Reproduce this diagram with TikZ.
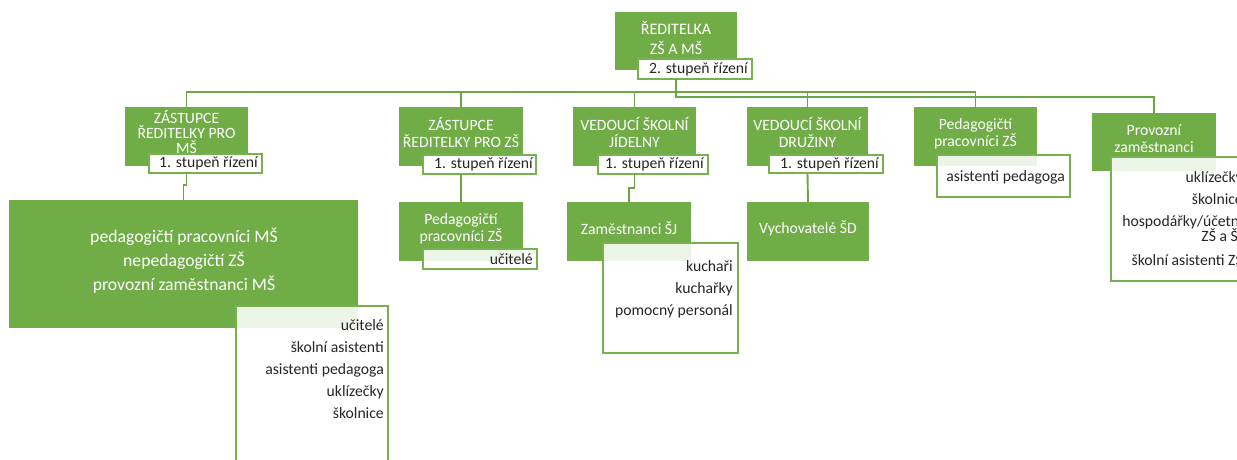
\documentclass[tikz,border=0pt]{standalone}
\usepackage{fontspec}
\setmainfont{Carlito}
\definecolor{G}{HTML}{70AD47}
\definecolor{GB}{HTML}{78B250}
\definecolor{GC}{HTML}{6CA545}
\definecolor{TX}{HTML}{262626}
\begin{document}
\begin{tikzpicture}[x=1pt,y=-1pt,
  gbox/.style={fill=G,draw=none,inner sep=0pt,outer sep=0pt,anchor=north west},
  wbox/.style={draw=GB,line width=1.4pt,fill=white,fill opacity=0.88,inner sep=0pt,outer sep=0pt,anchor=north west},
  lbox/.style={draw=GB,line width=1.4pt,fill=white,inner sep=0pt,outer sep=0pt,anchor=north west},
  gt/.style={text=white,align=center,inner sep=0pt,font=\fontsize{15.7}{17}\selectfont},
  lt/.style={text=TX,inner sep=0pt,anchor=east,font=\fontsize{15.7}{17}\selectfont},
  bt/.style={text=TX,align=right,inner sep=0pt,anchor=east,font=\fontsize{15.7}{22}\selectfont},
  conn/.style={draw=GC,line width=1.9pt}]
\useasboundingbox (0,0) rectangle (1237,459);
\clip (0,0) rectangle (1237,459);
% green boxes
\node[gbox,minimum width=122pt,minimum height=58pt] (top) at (615,12) {};
\node[gbox,minimum width=123pt,minimum height=59pt] (b1) at (125,107) {};
\node[gbox,minimum width=124pt,minimum height=59pt] (b2) at (399,107) {};
\node[gbox,minimum width=123pt,minimum height=59pt] (b3) at (573,107) {};
\node[gbox,minimum width=121pt,minimum height=59pt] (b4) at (747,107) {};
\node[gbox,minimum width=123pt,minimum height=59pt] (b5) at (914,107) {};
\node[gbox,minimum width=124pt,minimum height=58pt] (b6) at (1092,113) {};
\node[gbox,minimum width=349pt,minimum height=128pt] (c1) at (9,200) {};
\node[gbox,minimum width=124pt,minimum height=59pt] (c2) at (399,202) {};
\node[gbox,minimum width=124pt,minimum height=59pt] (c3) at (567,202) {};
\node[gbox,minimum width=122pt,minimum height=59pt] (c4) at (747,202) {};
% white boxes
\node[lbox,minimum width=114pt,minimum height=20pt] (lab0) at (638,59) {};
\node[lbox,minimum width=113pt,minimum height=19pt] (lab1) at (149,154) {};
\node[lbox,minimum width=113pt,minimum height=19pt] (lab2) at (423,155) {};
\node[lbox,minimum width=110pt,minimum height=19pt] (lab3) at (598,155) {};
\node[lbox,minimum width=114pt,minimum height=18pt] (lab4) at (769,155) {};
\node[wbox,minimum width=133pt,minimum height=42pt] (d5) at (937,155) {};
\node[wbox,minimum width=136pt,minimum height=124pt] (d6) at (1111,157) {};
\node[wbox,minimum width=152pt,minimum height=170pt] (d1) at (236,306) {};
\node[wbox,minimum width=114pt,minimum height=20pt] (d2) at (423,249) {};
\node[wbox,minimum width=135pt,minimum height=110pt] (d3) at (603,243) {};
% connectors
\coordinate (bus) at (676,92);
\draw[conn] (top.south |- lab0.south) -- (bus);
\draw[conn] (b1.north) -- (b1.north |- bus) -- (b5.north |- bus) -- (b5.north);
\draw[conn] (b2.north) -- (b2.north |- bus);
\draw[conn] (b3.north) -- (b3.north |- bus);
\draw[conn] (b4.north) -- (b4.north |- bus);
\draw[conn] (bus) -- ++(0,5) -| (b6.north);
\draw[conn] (b1.south |- lab1.south) -- ++(0,12) -| (c1.north);
\draw[conn] (b2.south |- lab2.south) -- (c2.north);
\draw[conn] (b3.south |- lab3.south) -- ++(0,14) -| (c3.north);
\draw[conn] (b4.south |- lab4.south) -- (c4.north);
% texts
\node[gt,font=\fontsize{16}{20}\selectfont] (topt) at (676,38) {ŘEDITELKA\\ZŠ A MŠ};
\node[gt,font=\fontsize{15.7}{15}\selectfont] (b1t) at (186.5,132) {ZÁSTUPCE\\ŘEDITELKY PRO\\MŠ};
\node[gt] (b2t) at (461,132.5) {ZÁSTUPCE\\ŘEDITELKY PRO ZŠ};
\node[gt] (b3t) at (634.5,132.5) {VEDOUCÍ ŠKOLNÍ\\JÍDELNY};
\node[gt] (b4t) at (807.5,132.5) {VEDOUCÍ ŠKOLNÍ\\DRUŽINY};
\node[gt] (b5t) at (975.5,133.5) {Pedagogičtí\\pracovníci ZŠ};
\node[gt] (b6t) at (1154,138.5) {Provozní\\zaměstnanci};
\node[gt,font=\fontsize{17.7}{24}\selectfont] (c1t) at (184,261) {pedagogičtí pracovníci MŠ\\nepedagogičtí ZŠ\\provozní zaměstnanci MŠ};
\node[gt] (c2t) at (461,228.5) {Pedagogičtí\\pracovníci ZŠ};
\node[gt] (c3t) at (629,228) {Zaměstnanci ŠJ};
\node[gt] (c4t) at (808,228) {Vychovatelé ŠD};
\node[lt] (lab0t) at (748,69) {2. stupeň řízení};
\node[lt] (lab1t) at (258,163.5) {1. stupeň řízení};
\node[lt] (lab2t) at (533,164.5) {1. stupeň řízení};
\node[lt] (lab3t) at (704,164.5) {1. stupeň řízení};
\node[lt] (lab4t) at (879,164) {1. stupeň řízení};
\node[lt] (d5t) at (1065,177) {asistenti pedagoga};
\node[lt] (d2t) at (533,259) {učitelé};
\node[bt] (d1t) at (384,369) {učitelé\\školní asistenti\\asistenti pedagoga\\uklízečky\\školnice};
\node[bt] (d3t) at (733,289) {kuchaři\\kuchařky\\pomocný personál};
\node[bt] (d6t) at (1243,218.5) {uklízečky\\školnice\\hospodářky/účetní\\[-7pt]ZŠ a ŠJ\\[2pt]školní asistenti ZŠ};
\end{tikzpicture}
\end{document}
